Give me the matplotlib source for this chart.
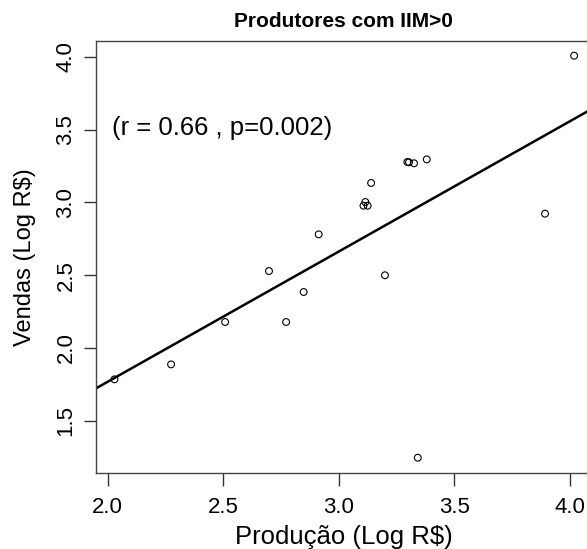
import matplotlib
matplotlib.use("Agg")
import matplotlib.pyplot as plt
import numpy as np

plt.rcParams['font.family'] = ['Liberation Sans', 'DejaVu Sans']

producao = [2.029, 2.274, 2.508, 2.698, 2.772, 2.848, 2.913, 3.107, 3.125, 3.115,
            3.140, 3.200, 3.297, 3.304, 3.326, 3.381, 3.342, 3.893, 4.019]
vendas = [1.784, 1.887, 2.178, 2.528, 2.178, 2.384, 2.780, 2.977, 2.977, 3.002,
          3.133, 2.499, 3.277, 3.275, 3.268, 3.295, 1.246, 2.922, 4.007]

fit_intercept = -0.020
fit_slope = 0.894

x_ticks = [2.0, 2.5, 3.0, 3.5, 4.0]
y_ticks = [1.5, 2.0, 2.5, 3.0, 3.5, 4.0]

title = "Produtores com IIM>0"
xlabel = "Produção (Log R$)"
ylabel = "Vendas (Log R$)"
annot = "(r = 0.66 , p=0.002)"

W, H = 587, 549
fig = plt.figure(figsize=(W / 100, H / 100), dpi=100)
left_px, right_px, top_px, bottom_px = 96, 591, 40.7, 473
ax = fig.add_axes([left_px / W, 1 - bottom_px / H,
                   (right_px - left_px) / W, (bottom_px - top_px) / H])

xlim = (1.949, 4.092)
ylim = (1.141, 4.11)
ax.set_xlim(*xlim)
ax.set_ylim(*ylim)

ax.scatter(producao, vendas, s=24, facecolors='none', edgecolors='black',
           linewidths=0.8, zorder=3)

xl = np.array(xlim)
ax.plot(xl, fit_intercept + fit_slope * xl, color='black', lw=1.8, zorder=2)

ax.text(2.017, 3.51, annot, fontsize=18.5, ha='left', va='center', color='black')

ax.set_xticks(x_ticks)
ax.set_xticklabels([f"{t:.1f}" for t in x_ticks])
ax.set_yticks(y_ticks)
ax.set_yticklabels([f"{t:.1f}" for t in y_ticks], rotation=90, va='center')
ax.tick_params(axis='both', direction='out', length=9, width=1, colors='#333333',
               labelsize=16, labelcolor='black')
ax.tick_params(axis='x', pad=8)
ax.tick_params(axis='y', pad=5)

for s in ax.spines.values():
    s.set_color('#444444')
    s.set_linewidth(1.0)

ax.set_xlabel(xlabel, fontsize=18.5, labelpad=5)
ax.set_ylabel(ylabel, fontsize=17, labelpad=14)
ax.set_title(title, fontsize=15, fontweight='bold', pad=10)

fig.savefig("out.png", dpi=100)
